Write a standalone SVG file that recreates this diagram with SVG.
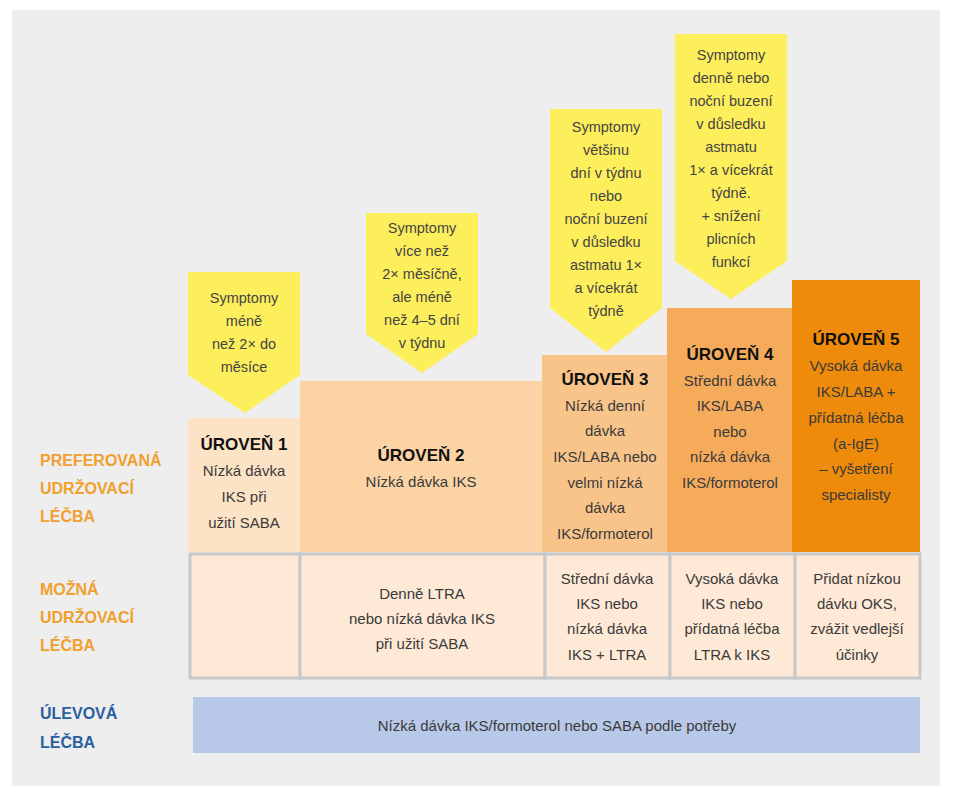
<svg xmlns="http://www.w3.org/2000/svg" width="976" height="800" viewBox="0 0 976 800">
<style>
text{font-family:"Liberation Sans",Arial,sans-serif;text-anchor:middle;fill:#3a3a3a;font-size:15px}
.h{font-weight:bold;font-size:17px;fill:#111}
.c{font-size:14.5px;fill:#444}
.lo{fill:#f0a030;font-weight:bold;font-size:16px;text-anchor:start}
.lb{fill:#2a5fa0;font-weight:bold;font-size:16px;text-anchor:start}
.call{fill:#fdee5c}
.cell{fill:#fde9d6;stroke:#c8c8c8;stroke-width:3}
</style>
<rect x="12" y="10" width="928" height="776" fill="#eeeeee"/>
<g id="labels">
<text class="lo" x="40" y="466">PREFEROVANÁ</text><text class="lo" x="40" y="494">UDRŽOVACÍ</text><text class="lo" x="40" y="522">LÉČBA</text>
<text class="lo" x="40" y="595">MOŽNÁ</text><text class="lo" x="40" y="623">UDRŽOVACÍ</text><text class="lo" x="40" y="651">LÉČBA</text>
<text class="lb" x="40" y="719">ÚLEVOVÁ</text><text class="lb" x="40" y="748">LÉČBA</text>
</g>
<g id="callouts">
<path class="call" d="M188 272H300V375L245 413L188 375Z"/>
<text class="c"><tspan x="244" y="303">Symptomy</tspan><tspan x="244" y="326">méně</tspan><tspan x="244" y="349">než 2× do</tspan><tspan x="244" y="372">měsíce</tspan></text>
<path class="call" d="M366 213H478V334L422 373L366 334Z"/>
<text class="c"><tspan x="422" y="233">Symptomy</tspan><tspan x="422" y="256">více než</tspan><tspan x="422" y="279">2× měsíčně,</tspan><tspan x="422" y="302">ale méně</tspan><tspan x="422" y="325">než 4–5 dní</tspan><tspan x="422" y="348">v týdnu</tspan></text>
<path class="call" d="M550 109H662V308L606 352L550 308Z"/>
<text class="c"><tspan x="606" y="132">Symptomy</tspan><tspan x="606" y="155">většinu</tspan><tspan x="606" y="178">dní v týdnu</tspan><tspan x="606" y="201">nebo</tspan><tspan x="606" y="224">noční buzení</tspan><tspan x="606" y="247">v důsledku</tspan><tspan x="606" y="270">astmatu 1×</tspan><tspan x="606" y="293">a vícekrát</tspan><tspan x="606" y="316">týdně</tspan></text>
<path class="call" d="M675 34H787V261L731 299L675 261Z"/>
<text class="c"><tspan x="731" y="60">Symptomy</tspan><tspan x="731" y="83">denně nebo</tspan><tspan x="731" y="106">noční buzení</tspan><tspan x="731" y="129">v důsledku</tspan><tspan x="731" y="152">astmatu</tspan><tspan x="731" y="175">1× a vícekrát</tspan><tspan x="731" y="198">týdně.</tspan><tspan x="731" y="221">+ snížení</tspan><tspan x="731" y="244">plicních</tspan><tspan x="731" y="267">funkcí</tspan></text>
</g>
<g id="level1"><rect x="188" y="418" width="112" height="134" fill="#fde3c6"/>
<text><tspan class="h" x="244" y="450">ÚROVEŇ 1</tspan><tspan x="244" y="476">Nízká dávka</tspan><tspan x="244" y="502">IKS při</tspan><tspan x="244" y="528">užití SABA</tspan></text></g>
<g id="level2"><rect x="300" y="381" width="242" height="171" fill="#fcd3a5"/>
<text><tspan class="h" x="421" y="461">ÚROVEŇ 2</tspan><tspan x="421" y="487">Nízká dávka IKS</tspan></text></g>
<g id="level3"><rect x="542" y="355" width="125" height="197" fill="#f9c48a"/>
<text><tspan class="h" x="605" y="385">ÚROVEŇ 3</tspan><tspan x="605" y="411">Nízká denní</tspan><tspan x="605" y="436">dávka</tspan><tspan x="605" y="462">IKS/LABA nebo</tspan><tspan x="605" y="488">velmi nízká</tspan><tspan x="605" y="513">dávka</tspan><tspan x="605" y="539">IKS/formoterol</tspan></text></g>
<g id="level4"><rect x="667" y="308" width="125" height="244" fill="#f5ab5a"/>
<text><tspan class="h" x="730" y="360">ÚROVEŇ 4</tspan><tspan x="730" y="386">Střední dávka</tspan><tspan x="730" y="411">IKS/LABA</tspan><tspan x="730" y="437">nebo</tspan><tspan x="730" y="462">nízká dávka</tspan><tspan x="730" y="488">IKS/formoterol</tspan></text></g>
<g id="level5"><rect x="792" y="280" width="128" height="272" fill="#ef8b0a"/>
<text><tspan class="h" x="856" y="345">ÚROVEŇ 5</tspan><tspan x="856" y="371">Vysoká dávka</tspan><tspan x="856" y="397">IKS/LABA +</tspan><tspan x="856" y="423">přídatná léčba</tspan><tspan x="856" y="449">(a-IgE)</tspan><tspan x="856" y="474">– vyšetření</tspan><tspan x="856" y="500">specialisty</tspan></text></g>
<g id="possible">
<rect class="cell" x="190" y="554" width="110" height="124"/>
<rect class="cell" x="300" y="554" width="245" height="124"/>
<rect class="cell" x="545" y="554" width="125" height="124"/>
<rect class="cell" x="670" y="554" width="125" height="124"/>
<rect class="cell" x="795" y="554" width="125" height="124"/>
<text><tspan x="422" y="599">Denně LTRA</tspan><tspan x="422" y="624">nebo nízká dávka IKS</tspan><tspan x="422" y="649">při užití SABA</tspan></text>
<text><tspan x="607" y="584">Střední dávka</tspan><tspan x="607" y="609">IKS nebo</tspan><tspan x="607" y="634">nízká dávka</tspan><tspan x="607" y="660">IKS + LTRA</tspan></text>
<text><tspan x="732" y="584">Vysoká dávka</tspan><tspan x="732" y="609">IKS nebo</tspan><tspan x="732" y="634">přídatná léčba</tspan><tspan x="732" y="660">LTRA k IKS</tspan></text>
<text><tspan x="857" y="584">Přidat nízkou</tspan><tspan x="857" y="609">dávku OKS,</tspan><tspan x="857" y="634">zvážit vedlejší</tspan><tspan x="857" y="660">účinky</tspan></text>
</g>
<g id="reliever"><rect x="193" y="697" width="727" height="56" fill="#b8c8e8"/>
<text x="557" y="731">Nízká dávka IKS/formoterol nebo SABA podle potřeby</text></g>
<g id="connectors"/>
</svg>
